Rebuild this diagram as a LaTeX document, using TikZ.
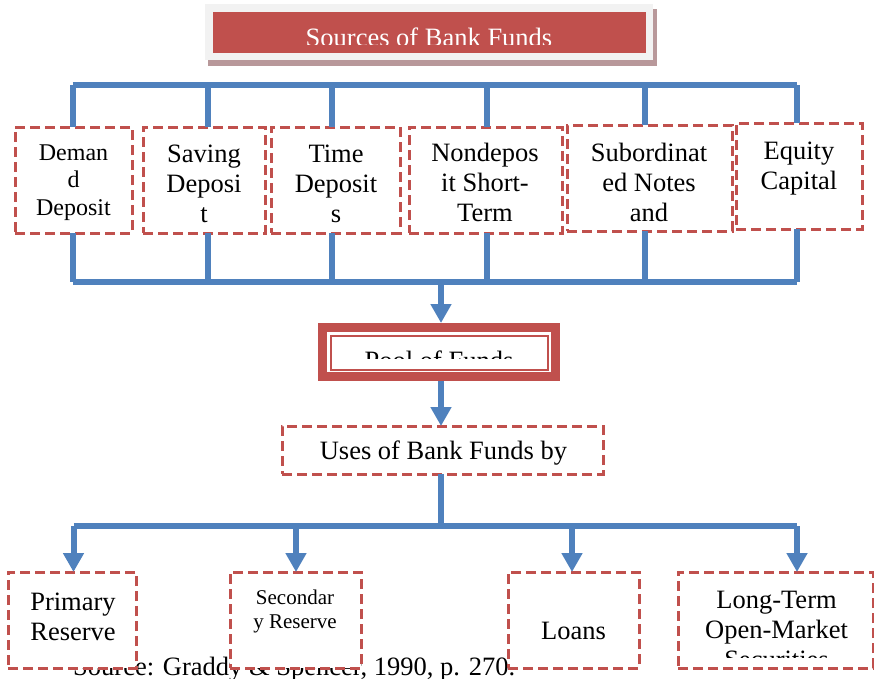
\documentclass[tikz,border=0pt]{standalone}
\usepackage{fontspec}
\setmainfont{Liberation Serif}
\usetikzlibrary{arrows.meta}
\definecolor{boxred}{HTML}{C0504D}
\definecolor{busblue}{HTML}{4F81BD}
\definecolor{panelgray}{HTML}{F2F2F2}
\definecolor{panelshadow}{HTML}{B8989A}
\begin{document}
\begin{tikzpicture}[x=1pt,y=-1pt,
  bus/.style={draw=busblue, line width=6pt},
  busrail/.style={bus, line cap=square},
  feed/.style={bus, -{Triangle[width=20pt,length=19pt]}},
  dbox/.style={draw=boxred, line width=3pt, dash pattern=on 10pt off 5pt,
    fill=white, inner sep=0pt, outer sep=0pt},
  txtbig/.style={font=\fontsize{26.5}{30}\selectfont},
  txtmid/.style={font=\fontsize{24}{27.5}\selectfont},
  txtsmall/.style={font=\fontsize{21}{24}\selectfont},
  % multi-line labels are placed by the baseline of their last line
  lbl/.style={anchor=base, inner sep=0pt, align=center}
]
\useasboundingbox (0,0) rectangle (874,678);

% source line, partly covered by the lower boxes
\node[txtbig, anchor=base west, inner sep=0pt] (src) at (73,675)
  {Source: Graddy \& Spencer, 1990, p. 270.};

% title banner
\fill[panelshadow] (208,9) rectangle (657,66);
\node[fill=panelgray, minimum width=448pt, minimum height=56pt, inner sep=0pt, outer sep=0pt]
  (banner) at (429,32) {};
\node[fill=boxred, minimum width=433pt, minimum height=41pt, inner sep=0pt, outer sep=0pt]
  (title) at (429.5,32.5) {};
\begin{scope}
  \clip (title.north west) rectangle (646,44.5);
  \node[lbl, txtbig, text=white] (titletext) at (429,46) {Sources of Bank Funds};
\end{scope}

% sources of funds
\node[dbox, minimum width=117pt, minimum height=106pt] (d1) at (73.5,180) {};
\node[dbox, minimum width=122pt, minimum height=106pt] (d2) at (204,180) {};
\node[dbox, minimum width=129pt, minimum height=106pt] (d3) at (335.5,180) {};
\node[dbox, minimum width=153pt, minimum height=106pt] (d4) at (485.5,180) {};
\node[dbox, minimum width=165pt, minimum height=106pt] (d5) at (649.5,178) {};
\node[dbox, minimum width=126pt, minimum height=106pt] (d6) at (799,176) {};

\begin{scope}
  \clip (0,100) rectangle (874,222.5);
  \node[lbl, txtmid] (d1t) at (73.5,215) {Deman\\d\\Deposit};
  \node[lbl, txtbig] (d2t) at (204,222) {Saving\\Deposi\\t};
  \node[lbl, txtbig] (d3t) at (336,222) {Time\\Deposit\\s};
  \node[lbl, txtbig] (d4t) at (485,221) {Nondepos\\it Short-\\Term};
  \node[lbl, txtbig] (d5t) at (649,221) {Subordinat\\ed Notes\\and};
  \node[lbl, txtbig] (d6t) at (799,189) {Equity\\Capital};
\end{scope}

% upper collecting rail
\coordinate (t1) at (72.5,85);
\coordinate (t2) at (208,85);
\coordinate (t3) at (332,85);
\coordinate (t4) at (487,85);
\coordinate (t5) at (645,85);
\coordinate (t6) at (797,85);
\draw[busrail] (t1) -- (t6);
\foreach \i in {1,...,6} \draw[bus] (t\i) -- (t\i |- d\i.north);

% lower collecting rail
\coordinate (b1) at (72.5,281.5);
\coordinate (b2) at (208,281.5);
\coordinate (b3) at (332,281.5);
\coordinate (b4) at (487,281.5);
\coordinate (b5) at (645,281.5);
\coordinate (b6) at (797,281.5);
\draw[busrail] (b1) -- (b6);
\foreach \i in {1,...,6} \draw[bus] (b\i |- d\i.south) -- (b\i);

% pool of funds
\node[draw=boxred, line width=9.3pt, fill=white, minimum width=232.7pt, minimum height=48.7pt,
  inner sep=0pt] (pool) at (439,352) {};
\draw[boxred, line width=2pt] ([shift={(13,13)}]pool.north west)
  rectangle ([shift={(-12,-11)}]pool.south east);
\begin{scope}
  \clip (331,336) rectangle (548,358);
  \node[lbl, txtbig] (poolt) at (439,369.5) {Pool of Funds};
\end{scope}

\coordinate (col) at (441,0);
\draw[feed] (col |- b1) -- (col |- pool.north);

% uses of funds
\node[dbox, minimum width=321pt, minimum height=48pt] (uses) at (442.5,450) {};
\node[lbl, txtbig] (usest) at (443.5,459) {Uses of Bank Funds by};
\draw[feed] (col |- pool.south) -- (col |- uses.north);

\node[dbox, minimum width=128pt, minimum height=96pt] (e1) at (72,620) {};
\node[dbox, minimum width=131pt, minimum height=96pt] (e2) at (295.5,620) {};
\node[dbox, minimum width=131pt, minimum height=96pt] (e3) at (573.5,620) {};
\node[dbox, minimum width=195pt, minimum height=96pt] (e4) at (775.5,620) {};

\node[lbl, txtbig] (e1t) at (73,640) {Primary\\Reserve};
\node[lbl, txtsmall] (e2t) at (295,628) {Secondar\\y Reserve};
\node[lbl, txtbig] (e3t) at (573.5,639) {Loans};
\begin{scope}
  \clip (680,575) rectangle (872,657);
  \node[lbl, txtbig] (e4t) at (776.5,668) {Long-Term\\Open-Market\\Securities};
\end{scope}

% distribution rail
\coordinate (u1) at (73.5,526);
\coordinate (u2) at (296,526);
\coordinate (u3) at (572,526);
\coordinate (u4) at (797,526);
\draw[bus] (col |- uses.south) -- (col |- u1);
\draw[busrail] (u1) -- (u4);
\foreach \i in {1,...,4} \draw[feed] (u\i) -- (u\i |- e\i.north);
\end{tikzpicture}
\end{document}
